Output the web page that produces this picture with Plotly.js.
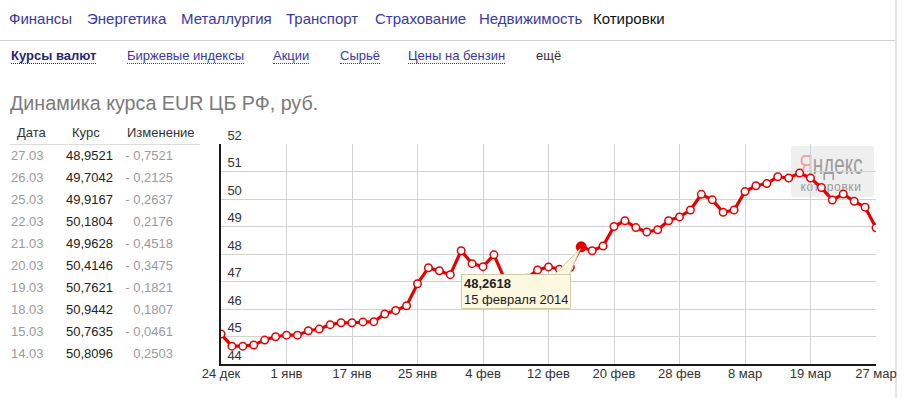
<!DOCTYPE html>
<html><head><meta charset="utf-8">
<script src="https://cdn.plot.ly/plotly-3.0.1.min.js"></script>
<style>
html,body{margin:0;padding:0;}
body{width:902px;height:398px;overflow:hidden;background:#fff;position:relative;font-family:"Liberation Sans",Arial,sans-serif;}
.a{position:absolute;white-space:nowrap;line-height:20px;}
.n1{font-size:15px;color:#3838a6;top:9px;}
.n2{font-size:13px;color:#3838a6;top:46px;}
.n2 span{border-bottom:1px dotted #3838a6;}
.th{font-size:13px;color:#333;}
.td{font-size:13px;}
#chart{position:absolute;left:0;top:0;width:902px;height:398px;z-index:2;}
#wm{position:absolute;left:791px;top:146px;width:83px;height:51px;background:rgba(236,236,236,0.85);border-radius:3px;z-index:1;}
</style></head>
<body>
<div id="wm"></div>
<div class="a" style="left:781px;top:153px;width:100px;text-align:center;font-size:27px;line-height:24px;color:#9c9c9c;z-index:1;transform:scaleX(0.7);transform-origin:50% 50%;"><span style="color:#f0a4a4">Я</span>ндекс</div>
<div class="a" style="left:796px;top:181px;width:70px;text-align:center;font-size:12px;line-height:13px;letter-spacing:0.6px;color:#999;z-index:1;">котировки</div>
<div id="chart"></div>
<div id="page"></div>
<div style="position:absolute;left:895px;top:0;width:2px;height:398px;background:#e4e4e4;"></div>
<script>
// ---- data ----
const navTop = ['Финансы','Энергетика','Металлургия','Транспорт','Страхование','Недвижимость','Котировки'];
const navSub = ['Курсы валют','Биржевые индексы','Акции','Сырьё','Цены на бензин','ещё'];
const chartTitle = 'Динамика курса EUR ЦБ РФ, руб.';
const tableHeader = ['Дата','Курс','Изменение'];
const tableDates = ['27.03','26.03','25.03','22.03','21.03','20.03','19.03','18.03','15.03','14.03'];
const tableRates = [48.9521,49.7042,49.9167,50.1804,49.9628,50.4146,50.7621,50.9442,50.7635,50.8096];
const tableChanges = [-0.7521,-0.2125,-0.2637,0.2176,-0.4518,-0.3475,-0.1821,0.1807,-0.0461,0.2503];
const tickLabels = ['24 дек','1 янв','17 янв','25 янв','4 фев','12 фев','20 фев','28 фев','8 мар','19 мар','27 мар'];
const eurRate = [
45.09,44.65,44.65,44.69,44.87,44.99,45.05,45.05,45.21,45.27,
45.43,45.50,45.50,45.53,45.54,45.82,45.95,46.12,46.92,47.50,
47.39,47.25,48.12,47.65,47.54,47.97,47.07,47.02,47.12,47.42,
47.53,47.45,47.52,48.2618,48.12,48.29,49.00,49.21,48.96,48.80,
48.88,49.21,49.35,49.60,50.17,49.97,49.52,49.60,50.27,50.48,
50.5593,50.8096,50.7635,50.9442,50.7621,50.4146,49.9628,50.1804,49.9167,49.7042,
48.9521];
const hoverIndex = 33;
const hoverDate = '15 февраля 2014';

// ---- page chrome ----
const fmt = v => v.toFixed(4).replace('.', ',');
const page = document.getElementById('page');
function add(html){ page.insertAdjacentHTML('beforeend', html); }
const navTopX = [9,87,181,286,375,479,593];
navTop.forEach((t,i)=>add(`<div class="a n1" style="left:${navTopX[i]}px;${i===navTop.length-1?'color:#111;':''}">${t}</div>`));
add('<div style="position:absolute;left:0;top:40px;width:895px;height:1px;background:#cfcfcf;"></div>');
const navSubX = [11,127,273,340,408,536];
navSub.forEach((t,i)=>{
  let st = '';
  if(i===0) st='font-weight:bold;color:#26267a;';
  if(i===navSub.length-1) add(`<div class="a n2" style="left:${navSubX[i]}px;color:#333;">${t}</div>`);
  else add(`<div class="a n2" style="left:${navSubX[i]}px;${st}"><span style="${i===0?'border-color:#26267a':''}">${t}</span></div>`);
});
add(`<div class="a" style="left:10px;top:91px;font-size:19.7px;line-height:24px;color:#7a7a7a;">${chartTitle}</div>`);
const thX = [17,72,127];
tableHeader.forEach((t,i)=>add(`<div class="a th" style="left:${thX[i]}px;top:123px;">${t}</div>`));
add('<div style="position:absolute;left:10px;top:144px;width:190px;height:1px;background:#dcdcdc;"></div>');
tableDates.forEach((d,k)=>{
  const cy = 156 + 21.95*k - 10;
  add(`<div class="a td" style="left:11px;top:${cy}px;color:#9a9a9a;">${d}</div>`);
  add(`<div class="a td" style="left:66px;top:${cy}px;color:#222;">${fmt(tableRates[k])}</div>`);
  const c = tableChanges[k];
  const txt = (c<0?'- ':'') + fmt(Math.abs(c));
  add(`<div class="a td" style="left:100px;width:73px;text-align:right;top:${cy}px;color:#9a9a9a;">${txt}</div>`);
});

// ---- chart ----
const xs = eurRate.map((_,i)=>i);
const tickVals = tickLabels.map((_,k)=>k*(eurRate.length-1)/(tickLabels.length-1));
const red = '#e60000';
const font = 'Liberation Sans, Arial, sans-serif';
const traces = [
  {x:xs, y:eurRate, type:'scatter', mode:'lines+markers',
   line:{color:red, width:3.2},
   marker:{size:7.5, color:'#ffffff', line:{color:red, width:1.5}},
   hoverinfo:'skip'},
  {x:[xs[hoverIndex]], y:[eurRate[hoverIndex]], type:'scatter', mode:'markers',
   marker:{size:11, color:red, line:{color:red, width:0}}, hoverinfo:'skip'}
];
const layout = {
  width:902, height:398,
  margin:{l:221, r:26, t:144, b:34, pad:0},
  paper_bgcolor:'rgba(0,0,0,0)', plot_bgcolor:'rgba(0,0,0,0)',
  showlegend:false,
  font:{family:font, size:13, color:'#333'},
  xaxis:{range:[0, eurRate.length-1], tickvals:tickVals, ticktext:tickLabels,
    showgrid:true, gridcolor:'#d2d2d2', gridwidth:1, zeroline:false,
    showline:true, linecolor:'#1a1a1a', linewidth:2, ticks:'', ticklabelstandoff:-4,
    tickfont:{family:font, size:13, color:'#333'}, fixedrange:true},
  yaxis:{range:[44,52], tick0:44, dtick:1, showgrid:true, gridcolor:'#d2d2d2', gridwidth:1,
    zeroline:false, showline:true, linecolor:'#1a1a1a', linewidth:2, ticks:'',
    ticklabelposition:'inside', ticklabelshift:-9, ticklabelstandoff:6, ticklabeloverflow:'allow',
    tickfont:{family:font, size:13, color:'#333'}, fixedrange:true},
  shapes:[
    {type:'path', xref:'x', yref:'y', xsizemode:'pixel', ysizemode:'pixel',
     xanchor:xs[hoverIndex], yanchor:eurRate[hoverIndex],
     path:'M -1,-2 L -27,-28 L -12,-28 Z', fillcolor:'#fcf9e0', line:{color:'#d4cca8', width:1}, layer:'above'}
  ],
  annotations:[
    {x:xs[hoverIndex], y:eurRate[hoverIndex], xref:'x', yref:'y', showarrow:false,
     xanchor:'center', yanchor:'middle', xshift:-65, yshift:-45,
     text:'<b>'+fmt(eurRate[hoverIndex])+'</b><br>'+hoverDate, align:'left',
     width:104, height:29, borderpad:2, bgcolor:'#fcf9e0', bordercolor:'#d4cca8', borderwidth:1,
     font:{family:font, size:13, color:'#222'}}
  ]
};
Plotly.newPlot('chart', traces, layout, {staticPlot:true, displayModeBar:false});
</script>
</body></html>
